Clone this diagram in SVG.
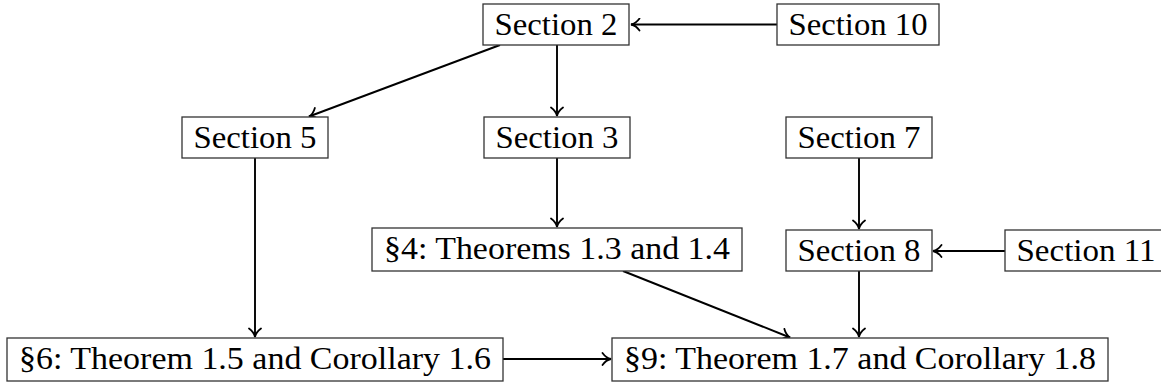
<svg xmlns="http://www.w3.org/2000/svg" width="1161" height="392" viewBox="0 0 1161 392">
<style>
.box{fill:#fff;stroke:#333;stroke-width:1.3}
.t{font-family:"Liberation Serif","Times New Roman",serif;font-size:31px;fill:#000;text-anchor:middle}
.e{fill:none;stroke:#000;stroke-width:1.9;marker-end:url(#ah)}
</style>
<defs>
<marker id="ah" markerUnits="userSpaceOnUse" viewBox="-11 -7 13 14" refX="0" refY="0" markerWidth="13" markerHeight="14" orient="auto">
<path d="M -8.5 -6 C -6 -2.5 -2.5 -0.5 0 0 C -2.5 0.5 -6 2.5 -8.5 6" fill="none" stroke="#000" stroke-width="1.8" stroke-linecap="round"/>
</marker>
</defs>
<g id="connectors">
<line class="e" x1="777" y1="24.5" x2="631" y2="24.5"/>
<line class="e" x1="500" y1="45" x2="309" y2="116.5"/>
<line class="e" x1="557" y1="45" x2="557" y2="116"/>
<line class="e" x1="255" y1="158" x2="255" y2="337"/>
<line class="e" x1="557" y1="158" x2="557" y2="227"/>
<line class="e" x1="859" y1="158" x2="859" y2="229"/>
<line class="e" x1="1005" y1="251" x2="933" y2="251"/>
<line class="e" x1="623" y1="271" x2="790" y2="337.5"/>
<line class="e" x1="859" y1="271" x2="859" y2="337"/>
<line class="e" x1="503" y1="359" x2="611" y2="359"/>
</g>
<g id="n2"><rect class="box" x="483" y="4" width="146" height="41"/><text class="t" x="556" y="35" textLength="123" lengthAdjust="spacingAndGlyphs">Section 2</text></g>
<g id="n10"><rect class="box" x="777" y="4" width="162" height="41"/><text class="t" x="858" y="35" textLength="139" lengthAdjust="spacingAndGlyphs">Section 10</text></g>
<g id="n5"><rect class="box" x="182" y="117" width="146" height="41"/><text class="t" x="255" y="148" textLength="123" lengthAdjust="spacingAndGlyphs">Section 5</text></g>
<g id="n3"><rect class="box" x="484" y="117" width="146" height="41"/><text class="t" x="557" y="148" textLength="123" lengthAdjust="spacingAndGlyphs">Section 3</text></g>
<g id="n7"><rect class="box" x="786" y="117" width="146" height="41"/><text class="t" x="859" y="148" textLength="123" lengthAdjust="spacingAndGlyphs">Section 7</text></g>
<g id="n4"><rect class="box" x="372" y="228" width="370" height="43"/><text class="t" x="557" y="259" textLength="346" lengthAdjust="spacingAndGlyphs">§4: Theorems 1.3 and 1.4</text></g>
<g id="n8"><rect class="box" x="786" y="230" width="146" height="41"/><text class="t" x="859" y="261" textLength="123" lengthAdjust="spacingAndGlyphs">Section 8</text></g>
<g id="n11"><rect class="box" x="1005" y="230" width="162" height="41"/><text class="t" x="1086" y="261" textLength="139" lengthAdjust="spacingAndGlyphs">Section 11</text></g>
<g id="n6"><rect class="box" x="7" y="338" width="496" height="43"/><text class="t" x="255" y="369" textLength="472" lengthAdjust="spacingAndGlyphs">§6: Theorem 1.5 and Corollary 1.6</text></g>
<g id="n9"><rect class="box" x="612" y="338" width="496" height="43"/><text class="t" x="860" y="369" textLength="472" lengthAdjust="spacingAndGlyphs">§9: Theorem 1.7 and Corollary 1.8</text></g>
</svg>
